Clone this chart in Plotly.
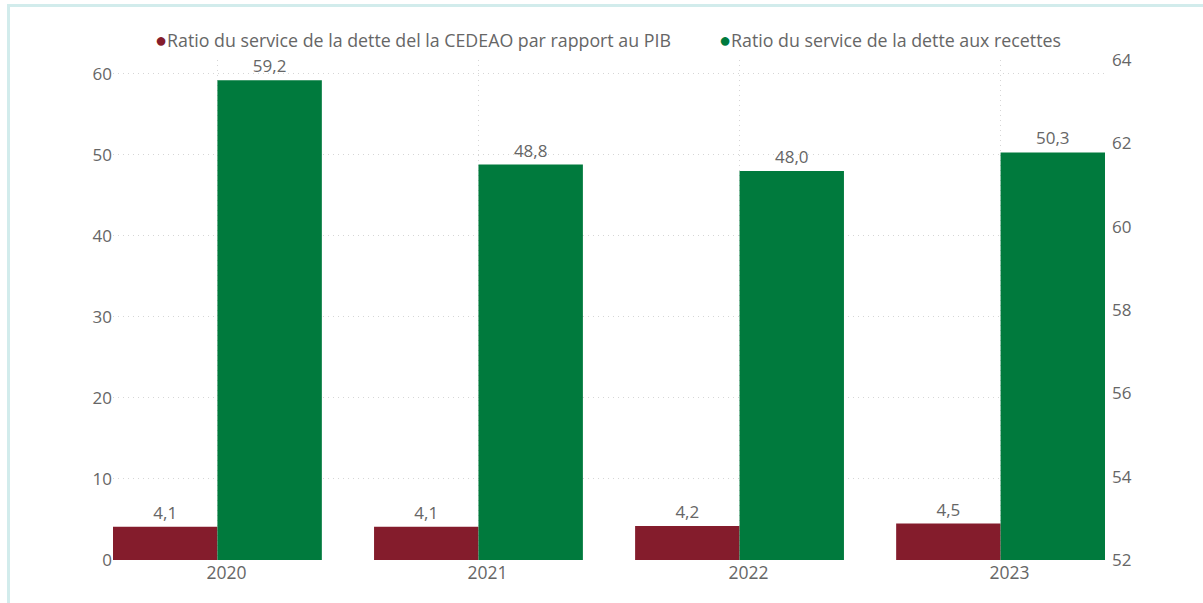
import plotly.graph_objects as go

# Debt-service ratios, 2020-2023
years = ["2020", "2021", "2022", "2023"]
ratio_pib = [4.1, 4.1, 4.2, 4.5]
ratio_recettes = [59.2, 48.8, 48.0, 50.3]

name_pib = "Ratio du service de la dette del la CEDEAO par rapport au PIB"
name_recettes = "Ratio du service de la dette aux recettes"

col_pib = "#841C2C"
col_recettes = "#007A3D"
txt_col = "#666666"
grid_col = "#D6D6D6"
font_family = "Open Sans, Segoe UI, sans-serif"

W, H = 1203, 603
L, R, T, B = 113, 98, 60, 43
pw, ph = W - L - R, H - T - B


def px(x):
    return (x - L) / pw


def py(y):
    return (H - B - y) / ph


fig = go.Figure()
fig.add_trace(go.Bar(
    x=years, y=ratio_pib, name=name_pib, marker_color=col_pib,
    marker_line_width=0,
    texttemplate="%{y:.1f}", textposition="outside", cliponaxis=False,
    textfont=dict(size=17, color=txt_col, family=font_family),
    showlegend=False,
))
fig.add_trace(go.Bar(
    x=years, y=ratio_recettes, name=name_recettes, marker_color=col_recettes,
    marker_line_width=0,
    texttemplate="%{y:.1f}", textposition="outside", cliponaxis=False,
    textfont=dict(size=17, color=txt_col, family=font_family),
    showlegend=False,
))
# secondary scale on the right
fig.add_trace(go.Scatter(x=[], y=[], yaxis="y2", showlegend=False, hoverinfo="skip"))

# legend line drawn as text with coloured dots
legend_items = [(name_pib, col_pib, 153), (name_recettes, col_recettes, 717)]
for label, col, x0 in legend_items:
    fig.add_annotation(
        xref="paper", yref="paper", x=px(x0), y=py(40),
        xanchor="left", yanchor="middle", showarrow=False,
        text=f'<span style="color:{col};font-size:20px">●</span>{label}',
        font=dict(size=17.8, color=txt_col, family=font_family),
    )

# light frame around the visual
fig.add_shape(
    type="rect", xref="paper", yref="paper",
    x0=px(8.5), x1=px(1215), y0=py(5.5), y1=py(620),
    line=dict(color="#D2ECEC", width=3), layer="below",
)

fig.update_layout(
    width=W, height=H,
    margin=dict(l=L, r=R, t=T, b=B),
    paper_bgcolor="white", plot_bgcolor="white",
    barmode="group", bargap=0.2, bargroupgap=0,
    separators=", ",
    font=dict(family=font_family, color=txt_col, size=16),
    xaxis=dict(
        type="category", range=[-0.4, 3.4],
        showgrid=True, gridcolor=grid_col, griddash="1px,4px", gridwidth=1,
        showline=False, zeroline=False, ticks="",
        tickfont=dict(size=17.5, color=txt_col), ticklabelshift=9,
    ),
    yaxis=dict(
        range=[0, 61.7], tickvals=[0, 10, 20, 30, 40, 50, 60],
        showgrid=True, gridcolor=grid_col, griddash="1px,4px", gridwidth=1,
        zeroline=False, showline=False, ticks="",
        tickfont=dict(size=17, color=txt_col), ticklabelstandoff=0,
    ),
    yaxis2=dict(
        overlaying="y", side="right", range=[52, 64],
        tickvals=[52, 54, 56, 58, 60, 62, 64],
        showgrid=False, zeroline=False, showline=False, ticks="",
        tickfont=dict(size=17, color=txt_col), ticklabelstandoff=6,
    ),
)

fig.write_html("out.html")
